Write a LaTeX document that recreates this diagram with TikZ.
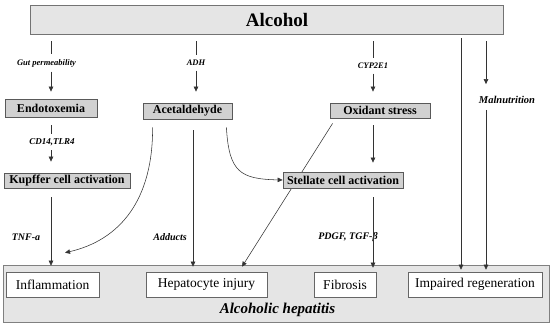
\documentclass[tikz,border=0pt]{standalone}
\usepackage{fontspec}
\setmainfont{Liberation Serif}
\usetikzlibrary{arrows.meta}
\begin{document}
\begin{tikzpicture}[x=1pt,y=-1pt,
  ln/.style={draw=black!80, line width=0.55pt},
  arr/.style={ln, -{Triangle[length=5pt,width=4.5pt]}},
  graybox/.style={draw=black!65, fill=black!18, line width=0.8pt, inner sep=0pt,
    font=\fontsize{12}{14}\selectfont\bfseries},
  whitebox/.style={draw=black!60, fill=white, line width=0.6pt, inner sep=0pt,
    minimum height=25pt, font=\fontsize{13.5}{16}\selectfont},
  lbl/.style={inner sep=4.5pt, font=\fontsize{8.5}{10}\selectfont\bfseries\itshape},
  biglbl/.style={inner sep=0pt, font=\fontsize{10}{12}\selectfont\bfseries\itshape}]
\useasboundingbox (0,0) rectangle (550,325);

% Alcohol
\node[draw=black!55, fill=black!10, line width=0.8pt, minimum width=473pt, minimum height=29pt, inner sep=0pt] (alc) at (266.5,19.5) {};
\node[inner sep=0pt, font=\fontsize{19}{22}\selectfont\bfseries] (alctext) at (277,20) {Alcohol};

% bottom box
\node[draw=black!50, fill=black!10, line width=0.7pt, minimum width=546pt, minimum height=57pt, inner sep=0pt] (big) at (276,293.5) {};
\node[inner sep=0pt, font=\fontsize{15}{18}\selectfont\bfseries\itshape] (ah) at (277.5,310) {Alcoholic hepatitis};
\node[whitebox, minimum width=93pt] (infl) at (52.5,284.5) {Inflammation};
\node[whitebox, minimum width=121pt] (hep) at (206.5,284.5) {Hepatocyte injury};
\node[whitebox, minimum width=62pt] (fib) at (345,284.5) {Fibrosis};
\node[whitebox, minimum width=134pt] (imp) at (475,284.5) {Impaired regeneration};

% gray boxes
\node[graybox, minimum width=92pt, minimum height=18pt] (endo) at (51,108) {Endotoxemia};
\node[graybox, minimum width=89pt, minimum height=16pt] (acet) at (187.5,111) {Acetaldehyde};
\node[graybox, minimum width=100pt, minimum height=15pt] (oxid) at (380,110.5) {Oxidant stress};
\node[graybox, minimum width=126pt, minimum height=15pt] (kupf) at (67,180.5) {Kupffer cell activation};

% Oxidant stress -> Hepatocyte injury (passes behind the stellate box)
\draw[arr] ([xshift=3pt,yshift=-5pt]oxid.south west) -- ([xshift=35.5pt,yshift=5pt]hep.north);

\node[graybox, minimum width=120pt, minimum height=16pt] (stell) at (343,180) {Stellate cell activation};

% labels
\node[lbl] (gut) at (46.5,63) {Gut permeability};
\node[lbl] (adh) at (196,63) {ADH};
\node[lbl] (cyp) at (373,66) {CYP2E1};
\node[lbl, font=\fontsize{9}{11}\selectfont\bfseries\itshape] (cd) at (52,142) {CD14,TLR4};
\node[biglbl, font=\fontsize{10.5}{12}\selectfont\bfseries\itshape] (mal) at (507,100) {Malnutrition};
\node[biglbl] (tnf) at (26,237) {TNF-a};
\node[biglbl] (add) at (170,237) {Adducts};
\node[biglbl] (pdgf) at (348,237) {PDGF, TGF-β};

\coordinate (mx) at (486,0);
\coordinate (lx) at (461,0);
\coordinate (ax) at (193,0);

% Alcohol branches
\draw[ln, shorten <=7pt] (alc.south -| endo) -- (gut.north -| endo);
\draw[arr, shorten >=7pt] (gut.south -| endo) -- (endo.north);
\draw[ln, shorten <=7pt] (alc.south -| adh) -- (adh.north);
\draw[arr, shorten >=11pt] (adh.south) -- (acet.north -| adh);
\draw[ln, shorten <=7pt] (alc.south -| cyp) -- (cyp.north);
\draw[arr, shorten >=11pt] (cyp.south) -- (oxid.north -| cyp);
\draw[arr, shorten <=7pt, shorten >=12pt] (alc.south -| mx) -- (mal.north -| mx);
\draw[arr, shorten <=6pt, shorten >=2pt] (mal.south -| mx) -- (imp.north -| mx);
\draw[arr, shorten <=4pt, shorten >=2pt] (alc.south -| lx) -- (imp.north -| lx);

% Endotoxemia -> Kupffer -> Inflammation
\draw[ln, shorten <=8pt] (endo.south) -- (cd.north -| endo);
\draw[arr, shorten >=11pt] (cd.south -| endo) -- (kupf.north -| endo);
\draw[arr, shorten <=9pt, shorten >=6pt] (kupf.south -| endo) -- (infl.north -| endo);

% Acetaldehyde
\draw[arr] ([xshift=10pt,yshift=-8pt]acet.south west) .. controls (153,200) and (120,240) .. ([xshift=12.5pt,yshift=19pt]infl.north);
\draw[arr, shorten <=11pt, shorten >=5pt] (acet.south -| ax) -- (hep.north -| ax);
\draw[arr] ([xshift=-6pt,yshift=-8pt]acet.south east) .. controls (229,172) and (240,179) .. (stell.west);

% Oxidant stress -> Stellate -> Fibrosis
\draw[arr, shorten <=7pt, shorten >=9pt] (oxid.south -| cyp) -- (stell.north -| cyp);
\draw[arr, shorten <=9pt, shorten >=4pt] (stell.south -| cyp) -- (fib.north -| cyp);
\end{tikzpicture}
\end{document}
